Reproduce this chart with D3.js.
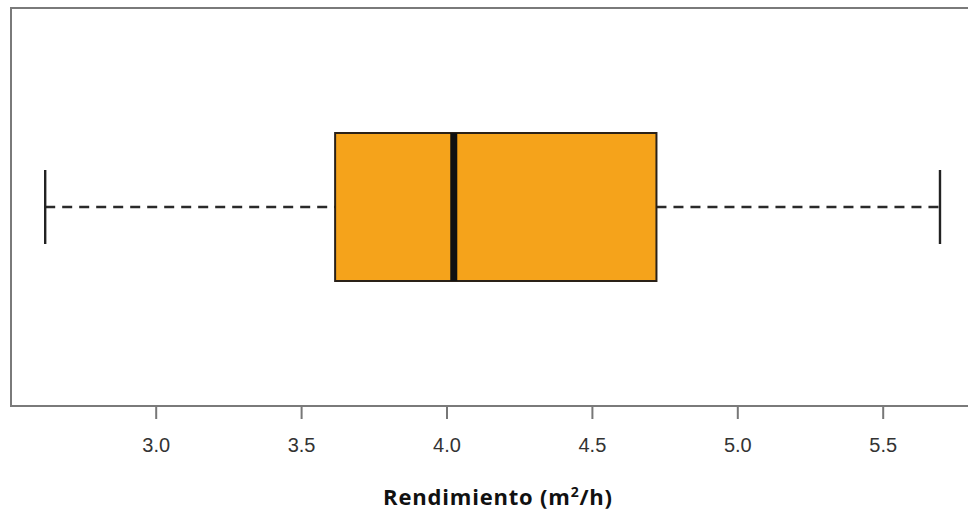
<!DOCTYPE html>
<html>
<head>
<meta charset="utf-8">
<script src="https://cdn.jsdelivr.net/npm/d3@7"></script>
<style>
  html, body { margin: 0; padding: 0; background: #fff; }
  svg { display: block; }
</style>
</head>
<body>
<svg id="chart" width="968" height="513"></svg>
<script>
// Data
const statNames = ["min", "q1", "median", "q3", "max"];
const statValues = [2.62, 3.617, 4.025, 4.722, 5.697];
const tickValues = [3.0, 3.5, 4.0, 4.5, 5.0, 5.5];
const tickLabels = ["3.0", "3.5", "4.0", "4.5", "5.0", "5.5"];
const axisTitle = "Rendimiento (m";
const categories = ["Rendimiento"];

const stats = {};
statNames.forEach((n, i) => stats[n] = statValues[i]);

const svg = d3.select("#chart");
const plot = { left: 11, top: 8, right: 977, bottom: 406 };

const x = d3.scaleLinear().domain([3.0, 5.5]).range([155.7, 882.7]);
const y = d3.scaleBand().domain(categories).range([plot.top, plot.bottom]).paddingInner(0).paddingOuter(0);
const cy = y(categories[0]) + y.bandwidth() / 2;
const boxH = 148;
const capH = 74;

// plot frame
svg.append("rect")
  .attr("x", plot.left).attr("y", plot.top)
  .attr("width", plot.right - plot.left).attr("height", plot.bottom - plot.top)
  .attr("fill", "none").attr("stroke", "#7a7a7a").attr("stroke-width", 2);

const g = svg.append("g");
// whiskers (dashed)
g.append("line")
  .attr("x1", x(stats.min)).attr("x2", x(stats.q1))
  .attr("y1", cy).attr("y2", cy)
  .attr("stroke", "#2a2a2a").attr("stroke-width", 2.6).attr("stroke-dasharray", "10,7");
g.append("line")
  .attr("x1", x(stats.q3)).attr("x2", x(stats.max))
  .attr("y1", cy).attr("y2", cy)
  .attr("stroke", "#2a2a2a").attr("stroke-width", 2.6).attr("stroke-dasharray", "10,7");
// caps
[stats.min, stats.max].forEach(v => {
  g.append("line")
    .attr("x1", x(v)).attr("x2", x(v))
    .attr("y1", cy - capH / 2).attr("y2", cy + capH / 2)
    .attr("stroke", "#222").attr("stroke-width", 2.4);
});
// box
g.append("rect")
  .attr("x", x(stats.q1)).attr("y", cy - boxH / 2)
  .attr("width", x(stats.q3) - x(stats.q1)).attr("height", boxH)
  .attr("fill", "#F5A31B").attr("stroke", "#2a2118").attr("stroke-width", 2);
// median
g.append("line")
  .attr("x1", x(stats.median)).attr("x2", x(stats.median))
  .attr("y1", cy - boxH / 2).attr("y2", cy + boxH / 2)
  .attr("stroke", "#111").attr("stroke-width", 7);

// x axis
const axis = d3.axisBottom(x)
  .tickValues(tickValues)
  .tickFormat((d, i) => tickLabels[i])
  .tickSize(12).tickPadding(19);
const ax = svg.append("g").attr("transform", `translate(0,${plot.bottom + 1})`).call(axis);
ax.select(".domain").remove();
ax.selectAll(".tick line").attr("stroke", "#777").attr("stroke-width", 2);
ax.selectAll(".tick text")
  .attr("fill", "#333")
  .style("font-family", "'Liberation Sans', Arial, sans-serif")
  .style("font-size", "20px");

// axis title
const t = svg.append("text")
  .attr("x", 498).attr("y", 505)
  .attr("text-anchor", "middle")
  .style("font-family", "'Open Sans', 'Noto Sans', sans-serif")
  .style("font-weight", "bold")
  .style("font-size", "22px")
  .style("letter-spacing", "0.8px")
  .attr("fill", "#111");
t.append("tspan").text(axisTitle);
t.append("tspan").text("2").attr("dy", -8).style("font-size", "14px");
t.append("tspan").text("/h)").attr("dy", 8);
</script>
</body>
</html>
